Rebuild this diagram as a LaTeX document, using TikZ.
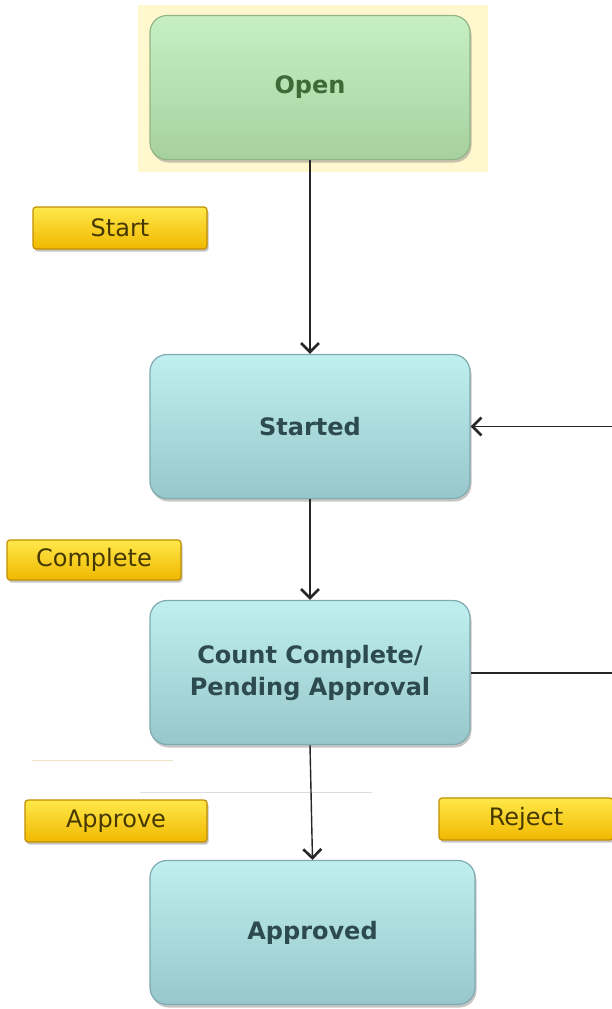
\documentclass[tikz,border=0pt]{standalone}
\usepackage{fontspec}
\setmainfont{DejaVu Sans}
\usetikzlibrary{arrows.meta,shadows}
\definecolor{bgyel}{HTML}{FFF8CF}
\definecolor{grtop}{HTML}{C6F0C4}
\definecolor{grbot}{HTML}{A6D19E}
\definecolor{grline}{HTML}{93B585}
\definecolor{grtext}{HTML}{3D6A37}
\definecolor{tltop}{HTML}{C0EFEF}
\definecolor{tlbot}{HTML}{98C7CB}
\definecolor{tlline}{HTML}{7EAAB0}
\definecolor{tltext}{HTML}{2C4A50}
\definecolor{yltop}{HTML}{FFE84A}
\definecolor{ylbot}{HTML}{F0B800}
\definecolor{ylline}{HTML}{C08F00}
\definecolor{yltext}{HTML}{453800}
\definecolor{faintA}{HTML}{EDE3C6}
\definecolor{faintB}{HTML}{DCDCDC}
\tikzset{
  state/.style={rectangle, rounded corners=17pt, minimum width=320pt, minimum height=144pt,
    top color=tltop, bottom color=tlbot, draw=tlline, line width=1.2pt,
    drop shadow={shadow xshift=1.5pt, shadow yshift=-3pt, opacity=0.45},
    text=tltext, font=\bfseries\fontsize{24}{32}\selectfont, align=center, inner sep=0pt},
  openstate/.style={state, top color=grtop, bottom color=grbot, draw=grline, text=grtext},
  btn/.style={rectangle, rounded corners=3pt, minimum width=174pt, minimum height=42pt,
    top color=yltop, bottom color=ylbot, draw=ylline, line width=1.2pt,
    drop shadow={shadow xshift=1.5pt, shadow yshift=-2.5pt, opacity=0.45},
    text=yltext, font=\fontsize{24}{28}\selectfont, inner sep=0pt},
  arr/.style={draw=black!85, line width=1.4pt, -{Straight Barb[length=9pt,width=18pt,line width=2.6pt]}},
}
\begin{document}
\begin{tikzpicture}[x=1pt,y=1pt]
\useasboundingbox (0,0) rectangle (612,-1009);
\clip (0,0) rectangle (612,-1009);
\fill[bgyel] (138,-5) rectangle (488,-172);
\node[openstate] (open) at (310,-87.5) {Open};
\node[state] (started) at (310,-426.5) {Started};
\node[state] (cc) at (310,-672.5) {Count Complete/\\Pending Approval};
\node[state, minimum width=325pt] (approved) at (312.5,-932.5) {Approved};
\node[btn] (start) at (120,-228) {Start};
\node[btn, minimum height=40pt] (complete) at (94,-560) {Complete};
\node[btn, minimum width=182pt] (approve) at (116,-821) {Approve};
\node[btn] (reject) at (526,-819) {Reject};
\draw[faintA, line width=0.8pt] (32,-760) -- (173,-760);
\draw[faintB, line width=0.8pt] (140,-792) -- (372,-792);
\draw[arr] (open.south) -- (started.north);
\draw[arr] (started.south) -- (cc.north);
\draw[arr] (cc.south) -- (approved.north);
\coordinate (fb) at (622,-673);
\draw[arr] (cc.east |- fb) -- (fb) |- (started.east);
\end{tikzpicture}
\end{document}
